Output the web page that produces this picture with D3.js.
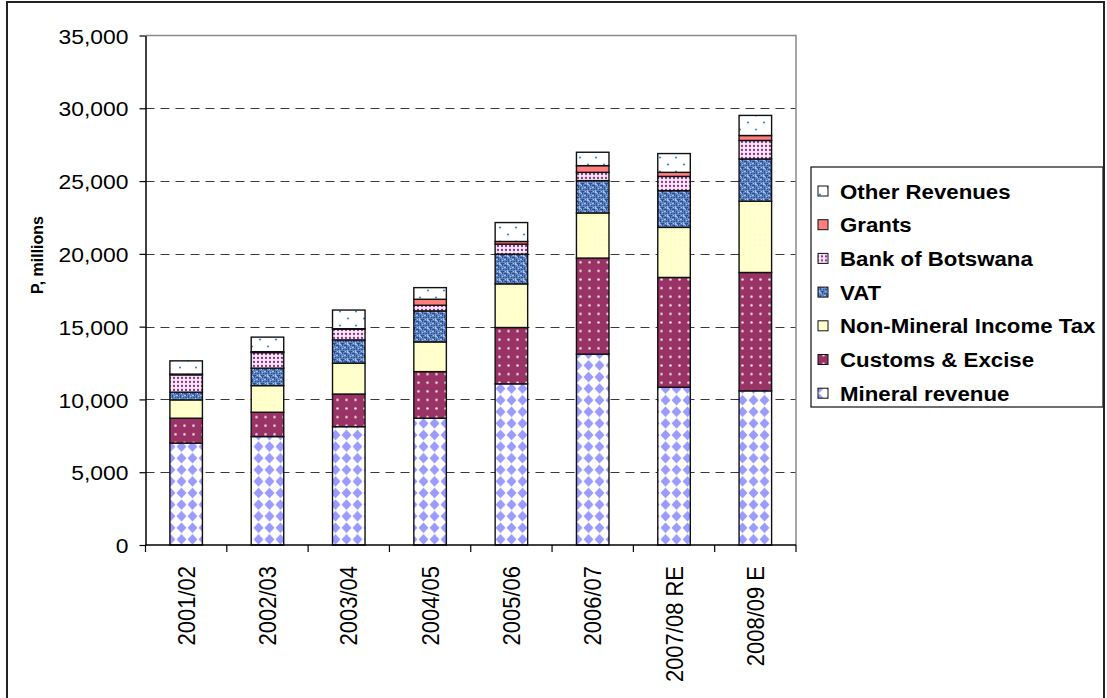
<!DOCTYPE html>
<html>
<head>
<meta charset="utf-8">
<script src="https://cdn.jsdelivr.net/npm/d3@7"></script>
<style>
  html, body { margin: 0; padding: 0; background: #fff; }
  svg text { font-family: "Liberation Sans", Arial, sans-serif; fill: #000; }
</style>
</head>
<body>
<svg id="chart" width="1107" height="698"></svg>
<script>
// Government revenue by source, P millions
const categories = ["2001/02", "2002/03", "2003/04", "2004/05", "2005/06", "2006/07", "2007/08 RE", "2008/09 E"];
const mineralRevenue = [7000, 7450, 8130, 8710, 11070, 13110, 10840, 10590];
const customsExcise  = [1710, 1670, 2240, 3200, 3870, 6600, 7540, 8130];
const nonMineralTax  = [1260, 1830, 2120, 2040, 3000, 3100, 3440, 4900];
const vat            = [530, 1200, 1600, 2130, 2040, 2220, 2520, 2900];
const bankOfBotswana = [1190, 1070, 740, 390, 690, 570, 980, 1270];
const grants         = [50, 60, 30, 410, 180, 460, 280, 340];
const otherRevenues  = [910, 1000, 1280, 800, 1300, 920, 1290, 1380];
const yTicks = [0, 5000, 10000, 15000, 20000, 25000, 30000, 35000];
const yTitle = "P, millions";

// stacking order, bottom to top
const series = [
  { key: "mineral", name: "Mineral revenue", values: mineralRevenue },
  { key: "customs", name: "Customs & Excise", values: customsExcise },
  { key: "nmit", name: "Non-Mineral Income Tax", values: nonMineralTax },
  { key: "vat", name: "VAT", values: vat },
  { key: "bob", name: "Bank of Botswana", values: bankOfBotswana },
  { key: "grants", name: "Grants", values: grants },
  { key: "other", name: "Other Revenues", values: otherRevenues }
];

const rows = categories.map((c, i) => {
  const r = { category: c };
  series.forEach(s => { r[s.key] = s.values[i]; });
  return r;
});
const stacked = d3.stack().keys(series.map(s => s.key))(rows);

const svg = d3.select("#chart");
const defs = svg.append("defs");

// ---- fill patterns ----
function pattern(id, w, h, bg) {
  const p = defs.append("pattern").attr("id", id)
    .attr("patternUnits", "userSpaceOnUse").attr("width", w).attr("height", h);
  p.append("rect").attr("width", w).attr("height", h).attr("fill", bg);
  return p;
}
// diamond checkerboard
{
  const w = 11, h = 11.6, rx = 5.0, ry = 5.3, p = pattern("pat-mineral", w, h, "#ffffff");
  const cx = w / 2, cy = h / 2;
  p.append("polygon").attr("fill", "#9a9aff")
    .attr("points", `${cx},${cy - ry} ${cx + rx},${cy} ${cx},${cy + ry} ${cx - rx},${cy}`);
}
// maroon with white dots
{
  const p = pattern("pat-customs", 9, 8.6, "#993366");
  p.append("circle").attr("cx", 4.5).attr("cy", 4.3).attr("r", 1.3).attr("fill", "#f2dbe6");
}
// pale yellow with faint dots
{
  const p = pattern("pat-nmit", 5, 5, "#ffffc8");
  p.append("circle").attr("cx", 2.5).attr("cy", 2.5).attr("r", 0.9).attr("fill", "#fffff0");
}
// mottled blue
{
  const p = pattern("pat-vat", 8, 8, "#5f86c4");
  const dark = [[0,1,3,1],[4,3,1,3],[1,5,2,1],[6,0,1,2],[2,2,1,2],[5,7,3,1],[7,5,1,1]];
  const light = [[3,0,2,1],[0,3,2,1],[6,4,1,1],[3,6,1,2],[1,7,1,1],[5,1,1,1]];
  dark.forEach(([x, y, w, h]) => p.append("rect").attr("x", x).attr("y", y).attr("width", w).attr("height", h).attr("fill", "#2f4e8c"));
  light.forEach(([x, y, w, h]) => p.append("rect").attr("x", x).attr("y", y).attr("width", w).attr("height", h).attr("fill", "#a9c0e8"));
}
// purple dots on white
{
  const p = pattern("pat-bob", 4, 4, "#f6e8f4");
  p.append("circle").attr("cx", 2).attr("cy", 2).attr("r", 1.15).attr("fill", "#8e2f8c");
}
// sparse blue dots on white
{
  const p = pattern("pat-other", 16, 14, "#ffffff");
  p.append("circle").attr("cx", 4).attr("cy", 3.5).attr("r", 1.1).attr("fill", "#3b8de0");
  p.append("circle").attr("cx", 12).attr("cy", 10.5).attr("r", 1.1).attr("fill", "#3b8de0");
}
const fills = {
  mineral: "url(#pat-mineral)",
  customs: "url(#pat-customs)",
  nmit: "url(#pat-nmit)",
  vat: "url(#pat-vat)",
  bob: "url(#pat-bob)",
  grants: "#ff7f7f",
  other: "url(#pat-other)"
};

// ---- layout ----
const plot = { left: 145.5, right: 796, top: 35.5, bottom: 545 };

// outer frame
svg.append("rect").attr("x", 7).attr("y", 2).attr("width", 1097).attr("height", 710)
  .attr("fill", "none").attr("stroke", "#222").attr("stroke-width", 2);

const x = d3.scaleBand().domain(categories).range([plot.left, plot.right])
  .paddingInner(0.6).paddingOuter(0.3);
const y = d3.scaleLinear().domain([0, 35000]).range([plot.bottom, plot.top]);

// gridlines
svg.append("g").selectAll("line")
  .data(yTicks.filter(v => v > 0 && v < 35000))
  .join("line")
  .attr("x1", plot.left).attr("x2", plot.right)
  .attr("y1", d => Math.round(y(d)) + 0.5).attr("y2", d => Math.round(y(d)) + 0.5)
  .attr("stroke", "#3a3a3a").attr("stroke-width", 1.2).attr("stroke-dasharray", "9,6");

// plot-area border (top and right)
svg.append("path")
  .attr("d", `M${plot.left},${plot.top}H${plot.right}V${plot.bottom}`)
  .attr("fill", "none").attr("stroke", "#8a8a8a").attr("stroke-width", 1.5);

// stacked bars
svg.append("g").selectAll("g")
  .data(stacked)
  .join("g")
  .attr("fill", d => fills[d.key])
  .selectAll("rect")
  .data(d => d)
  .join("rect")
  .attr("x", d => x(d.data.category))
  .attr("width", x.bandwidth())
  .attr("y", d => y(d[1]))
  .attr("height", d => y(d[0]) - y(d[1]))
  .attr("stroke", "#111").attr("stroke-width", 1.4);

// y axis
const yAxis = svg.append("g")
  .attr("transform", `translate(${plot.left},0)`)
  .call(d3.axisLeft(y).tickValues(yTicks).tickFormat(d3.format(",")).tickSize(6).tickSizeOuter(0));
yAxis.select(".domain").attr("stroke", "#000").attr("stroke-width", 1.5);
yAxis.selectAll(".tick line").attr("stroke", "#000").attr("stroke-width", 1.2);
yAxis.selectAll(".tick text")
  .attr("x", 0).attr("dy", "0.36em")
  .attr("transform", "translate(-17,0) scale(1.09,1)")
  .style("font-size", "21px").style("font-family", "'Liberation Sans', Arial, sans-serif");

// x axis line and boundary ticks
svg.append("line")
  .attr("x1", plot.left).attr("x2", plot.right)
  .attr("y1", plot.bottom).attr("y2", plot.bottom)
  .attr("stroke", "#000").attr("stroke-width", 1.5);
const boundaries = categories.map(c => x(c) - x.step() * x.paddingInner() / 2);
boundaries.push(plot.right);
svg.append("g").selectAll("line")
  .data(boundaries)
  .join("line")
  .attr("x1", d => d).attr("x2", d => d)
  .attr("y1", plot.bottom).attr("y2", plot.bottom + 7)
  .attr("stroke", "#000").attr("stroke-width", 1.2);

// category labels, rotated
svg.append("g").selectAll("text")
  .data(categories)
  .join("text")
  .attr("transform", d => `translate(${x(d) + x.bandwidth() / 2},566) rotate(-90) scale(1,1.08)`)
  .attr("text-anchor", "end")
  .attr("dy", "0.36em")
  .style("font-size", "22px")
  .text(d => d);

// y axis title
svg.append("text")
  .attr("transform", "translate(37,255) rotate(-90)")
  .attr("text-anchor", "middle")
  .attr("dy", "0.35em")
  .style("font-size", "16px").style("font-weight", "bold")
  .text(yTitle);

// legend (top entry is the top of the stack)
const legend = svg.append("g");
legend.append("rect").attr("x", 811).attr("y", 167).attr("width", 292).attr("height", 240)
  .attr("fill", "#fff").attr("stroke", "#222").attr("stroke-width", 1.3);
const legendItems = series.slice().reverse();
const item = legend.selectAll("g.item")
  .data(legendItems)
  .join("g").attr("class", "item")
  .attr("transform", (d, i) => `translate(0,${191 + i * 33.7})`);
item.append("rect")
  .attr("x", 818).attr("y", -5).attr("width", 10).attr("height", 10)
  .attr("fill", d => fills[d.key]).attr("stroke", "#111").attr("stroke-width", 1);
item.append("text")
  .attr("transform", "translate(840,0) scale(1.06,1)")
  .attr("dy", "0.36em")
  .style("font-size", "21px").style("font-weight", "bold")
  .text(d => d.name);
</script>
</body>
</html>
